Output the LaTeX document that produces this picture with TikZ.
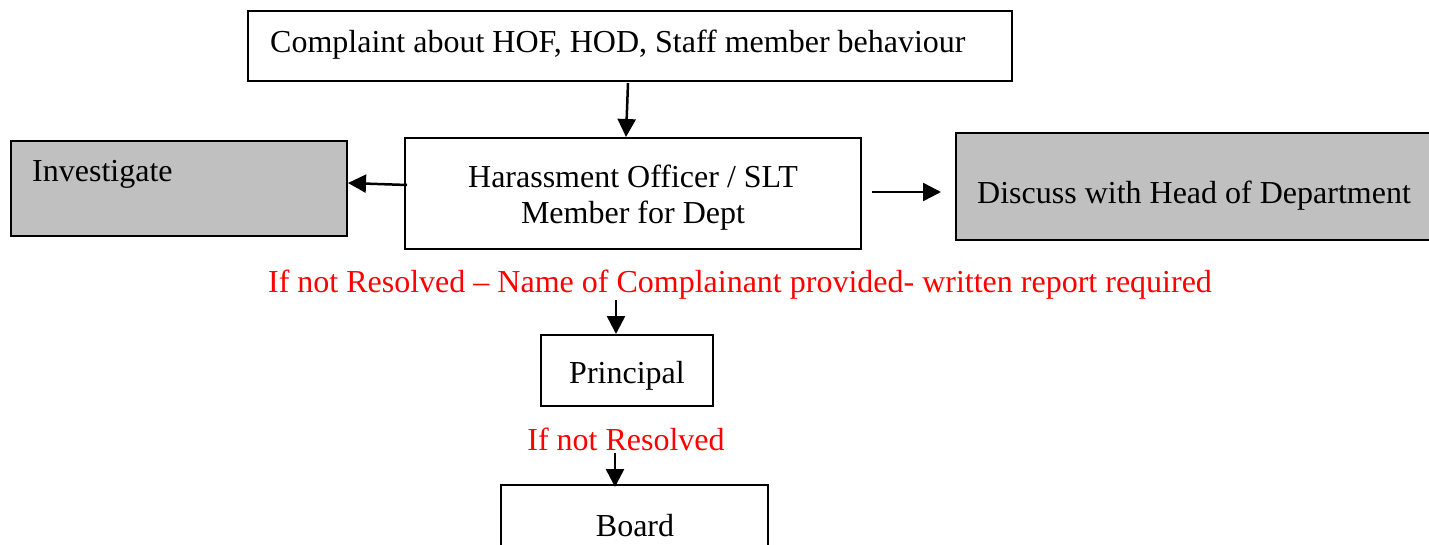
\documentclass[tikz,border=0pt]{standalone}
\usepackage{fontspec}
\setmainfont{Liberation Serif}
\usetikzlibrary{arrows.meta}
\definecolor{boxgray}{RGB}{192,192,192}
\definecolor{alertred}{RGB}{255,0,0}
\tikzset{
  box/.style={draw=black, line width=2pt, rectangle, inner sep=0pt},
  greybox/.style={box, fill=boxgray},
  txt/.style={inner sep=0pt, font=\fontsize{32}{36}\selectfont, text=black},
  redtxt/.style={txt, text=alertred},
  flow/.style={line width=2.5pt, -{Triangle[length=18pt,width=18pt]}}
}
\begin{document}
\begin{tikzpicture}[x=1pt,y=-1pt]
\useasboundingbox (0,0) rectangle (1429,544);
\clip (0,0) rectangle (1429,544);

% boxes
\node[box, minimum width=764pt, minimum height=70pt] (complaint) at (630,46) {};
\node[box, minimum width=456pt, minimum height=111pt] (officer) at (633,193.5) {};
\node[greybox, minimum width=336pt, minimum height=95pt] (investigate) at (179,188.5) {};
\node[greybox, minimum width=500pt, minimum height=107pt] (discuss) at (1206,186.5) {};
\node[box, minimum width=172pt, minimum height=71pt] (principal) at (627,370.5) {};
\node[box, minimum width=267pt, minimum height=110pt] (board) at (634.5,540) {};

% box texts
\node[txt, anchor=west] (complainttxt) at (270,45) {Complaint about HOF, HOD, Staff member behaviour};
\node[txt, align=center] (officertxt) at (633,198) {Harassment Officer / SLT\\Member for Dept};
\node[txt, anchor=west] (investigatetxt) at (32,174) {Investigate};
\node[txt, anchor=west] (discusstxt) at (977,196) {Discuss with Head of Department};
\node[txt] (principaltxt) at (627,376) {Principal};
\node[txt] (boardtxt) at (635,526) {Board};

% red notes
\node[redtxt] (note1) at (740,285) {If not Resolved -- Name of Complainant provided- written report required};
\node[redtxt] (note2) at (626,439) {If not Resolved};

% connectors
\coordinate (c1) at (628,83);
\coordinate (c1e) at (626,137);
\draw[flow] (c1) -- (c1e);
\coordinate (o1) at (407,185);
\draw[flow] (o1) -- (investigate.east |- 0,183);
\coordinate (o2) at (872,192);
\coordinate (o2e) at (941,192);
\draw[flow] (o2) -- (o2e);
\coordinate (n1) at (616,300);
\draw[flow] (n1) -- (principal.north -| n1);
\coordinate (n2) at (615,453);
\coordinate (n2e) at (615,487);
\draw[flow] (n2) -- (n2e);
\end{tikzpicture}
\end{document}
